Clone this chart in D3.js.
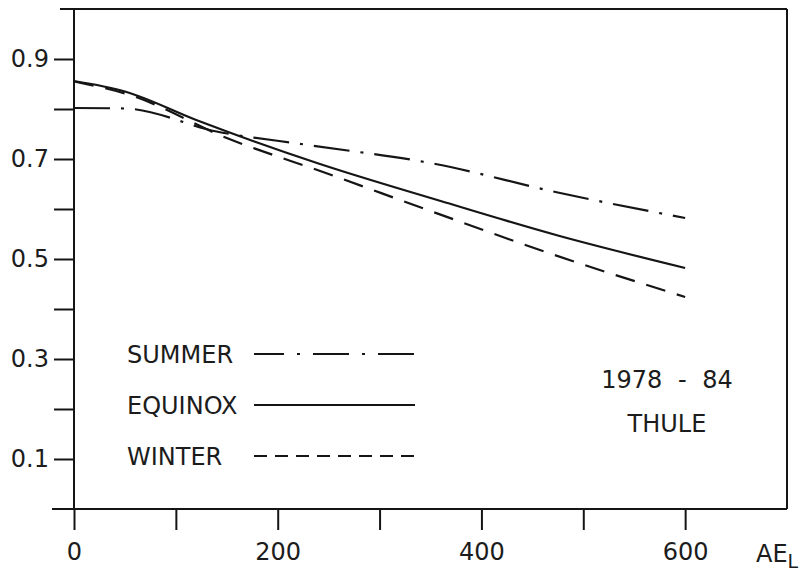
<!DOCTYPE html>
<html>
<head>
<meta charset="utf-8">
<script src="https://cdn.jsdelivr.net/npm/d3@7"></script>
<style>
  body { margin: 0; background: #fff; }
  svg text { font-family: "DejaVu Sans", sans-serif; font-size: 24px; fill: #1c1c1c; }
</style>
</head>
<body>
<div id="chart"></div>
<script>
// values
const summerAE = [0, 50, 140, 230, 355, 475, 600]
const summerVal = [0.802, 0.801, 0.755, 0.728, 0.690, 0.633, 0.582]
const equinoxAE = [0, 50, 120, 240, 360, 475, 600]
const equinoxVal = [0.856, 0.835, 0.778, 0.691, 0.616, 0.547, 0.482]
const winterAE = [0, 55, 150, 250, 350, 463, 600]
const winterVal = [0.855, 0.828, 0.742, 0.670, 0.596, 0.514, 0.424]

const seriesNames = ["SUMMER", "EQUINOX", "WINTER"]
const xTicks = [0, 100, 200, 300, 400, 500, 600]
const xLabels = [0, 200, 400, 600]
const yTicks = [0.1, 0.2, 0.3, 0.4, 0.5, 0.6, 0.7, 0.8, 0.9]
const yLabels = [0.1, 0.3, 0.5, 0.7, 0.9]
const noteLines = ["1978 - 84", "THULE"]

var width = 809,
  height = 573;

var svg = d3.select("#chart").append("svg")
  .attr("width", width)
  .attr("height", height)

var x = d3.scaleLinear().domain([0, 700]).range([74, 787]);
var y = d3.scaleLinear().domain([0, 1]).range([509, 9]);

var ink = "#151515";

// x axis
var xAxis = svg.append("g")
  .attr("transform", "translate(0," + y(0) + ")")
  .call(d3.axisBottom(x)
    .tickValues(xTicks)
    .tickSize(21)
    .tickSizeOuter(0)
    .tickFormat(d => xLabels.includes(d) ? d : ""));
xAxis.select(".domain").remove();
xAxis.selectAll("line").attr("stroke", ink).attr("stroke-width", 2);
xAxis.selectAll("text")
  .attr("y", 51)
  .attr("dy", 0)
  .attr("fill", "#1c1c1c")
  .style("font-size", "24px")
  .style("font-family", "DejaVu Sans, sans-serif");

// y axis
var yAxis = svg.append("g")
  .attr("transform", "translate(" + x(0) + ",0)")
  .call(d3.axisLeft(y)
    .tickValues(yTicks)
    .tickSize(20)
    .tickSizeOuter(0)
    .tickFormat(d => yLabels.includes(d) ? d3.format(".1f")(d) : ""));
yAxis.select(".domain").remove();
yAxis.selectAll("line").attr("stroke", ink).attr("stroke-width", 2);
yAxis.selectAll("text")
  .attr("x", -25)
  .attr("dy", "0.3em")
  .attr("fill", "#1c1c1c")
  .style("font-size", "24px")
  .style("font-family", "DejaVu Sans, sans-serif");

// frame: axes lines plus top and right border
var frame = [
  [x(0), y(1), x(0), y(0)],
  [52, y(0), x(700), y(0)],
  [60, y(1), x(700), y(1)],
  [x(700), y(1), x(700), y(0)]
];
svg.append("g").selectAll("line")
  .data(frame)
  .join("line")
  .attr("x1", d => d[0]).attr("y1", d => d[1])
  .attr("x2", d => d[2]).attr("y2", d => d[3])
  .attr("stroke", ink)
  .attr("stroke-width", 2);

// curves
var line = d3.line()
  .curve(d3.curveMonotoneX)
  .x(d => x(d[0]))
  .y(d => y(d[1]));

var series = [
  { pts: d3.zip(summerAE, summerVal), dash: "36,11,3,11" },
  { pts: d3.zip(equinoxAE, equinoxVal), dash: null },
  { pts: d3.zip(winterAE, winterVal), dash: "20,12" }
];

series.forEach(function (s) {
  svg.append("path")
    .attr("d", line(s.pts))
    .attr("fill", "none")
    .attr("stroke", ink)
    .attr("stroke-width", 2.2)
    .attr("stroke-dasharray", s.dash);
});

// legend
var legendDash = ["36,13,3,13", null, "13,8"];
var legendEnd = [415, 415, 420];
seriesNames.forEach(function (name, i) {
  var ly = 354 + i * 51;
  svg.append("text")
    .attr("x", 127)
    .attr("y", ly + 9)
    .text(name);
  svg.append("line")
    .attr("x1", 254).attr("x2", legendEnd[i])
    .attr("y1", ly).attr("y2", ly)
    .attr("stroke", ink)
    .attr("stroke-width", 2.2)
    .attr("stroke-dasharray", legendDash[i])
    .attr("stroke-dashoffset", i === 0 ? 6 : 0);
});

// station note
noteLines.forEach(function (t, i) {
  svg.append("text")
    .attr("x", 667)
    .attr("y", 388 + i * 44)
    .attr("text-anchor", "middle")
    .style("word-spacing", "8px")
    .text(t);
});

// axis title AE with subscript L
var title = svg.append("text")
  .attr("x", 756)
  .attr("y", 562);
title.append("tspan").text("AE");
title.append("tspan")
  .attr("dy", 6)
  .style("font-size", "19px")
  .text("L");
</script>
</body>
</html>
